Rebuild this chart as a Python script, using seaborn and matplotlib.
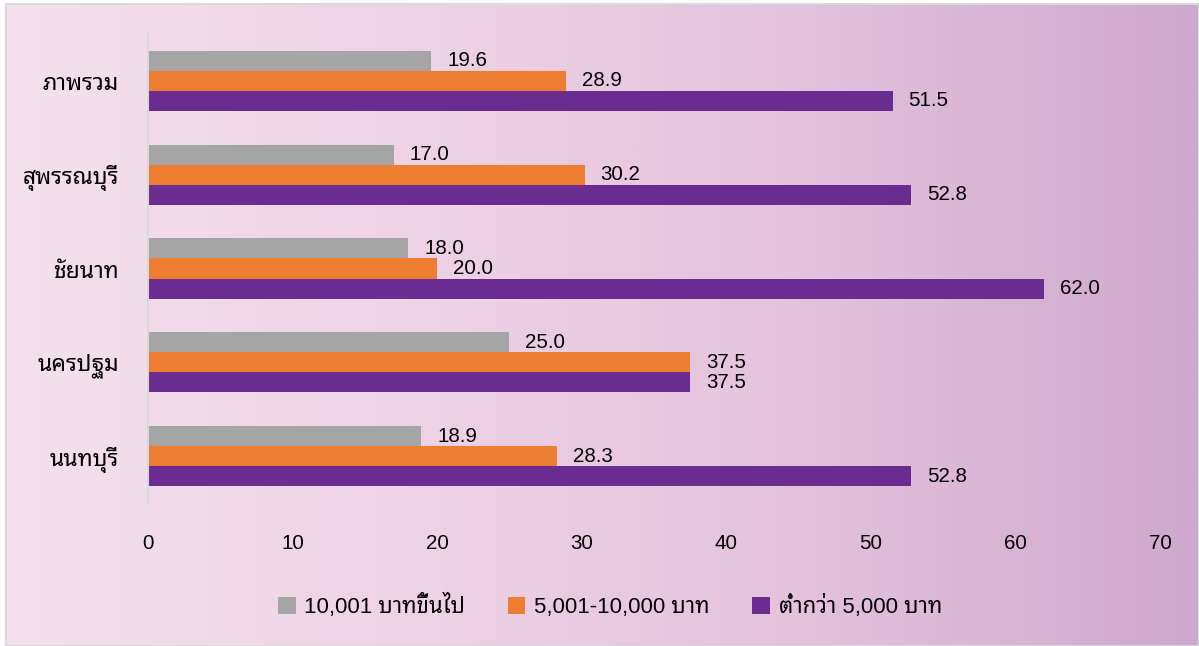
import matplotlib
matplotlib.use("Agg")
import matplotlib.pyplot as plt
import numpy as np
import pandas as pd
import seaborn as sns
from matplotlib.colors import LinearSegmentedColormap
from matplotlib.patches import Patch

# Provinces (top to bottom) and monthly income brackets
provinces = ["ภาพรวม", "สุพรรณบุรี", "ชัยนาท", "นครปฐม", "นนทบุรี"]
brackets = ["10,001 บาทขึ้นไป", "5,001-10,000 บาท", "ต่ำกว่า 5,000 บาท"]
high_income = [19.6, 17.0, 18.0, 25.0, 18.9]
mid_income = [28.9, 30.2, 20.0, 37.5, 28.3]
low_income = [51.5, 52.8, 62.0, 37.5, 52.8]
x_ticks = [0, 10, 20, 30, 40, 50, 60, 70]

colors = ["#a5a5a5", "#ed7d31", "#6a2c91"]

df = pd.DataFrame({
    "province": provinces * 3,
    "bracket": [brackets[0]] * 5 + [brackets[1]] * 5 + [brackets[2]] * 5,
    "percent": high_income + mid_income + low_income,
})

sns.set_theme(style="white")
plt.rcParams["font.family"] = ["Liberation Sans", "Noto Sans Thai Looped", "DejaVu Sans"]
plt.rcParams["text.color"] = "black"
plt.rcParams["xtick.color"] = "black"
plt.rcParams["ytick.color"] = "black"

W, H = 1199, 646
fig = plt.figure(figsize=(W / 100, H / 100), dpi=100)
fig.patch.set_facecolor("white")

# Gradient panel behind the chart
bg = fig.add_axes([6 / W, 0, 1 - 6 / W, 1 - 4 / H], zorder=0)
grad_cmap = LinearSegmentedColormap.from_list(
    "bg", ["#f4e1ed", "#eed3e6", "#e4c2dc", "#cea8ce"])
bg.imshow(np.linspace(0, 1, 512).reshape(1, -1), aspect="auto", cmap=grad_cmap,
          extent=[0, 1, 0, 1])
bg.set_xticks([])
bg.set_yticks([])
for s in bg.spines.values():
    s.set_color("#d9d9d9")
    s.set_linewidth(1.5)

ax = fig.add_axes([148 / W, 1 - 503 / H, (1160 - 148) / W, (503 - 34) / H], zorder=1)
ax.patch.set_alpha(0)

sns.barplot(data=df, y="province", x="percent", hue="bracket", order=provinces,
            hue_order=brackets, palette=colors, orient="h", width=0.64,
            saturation=1, linewidth=0, edgecolor="none", ax=ax, legend=False)

for container in ax.containers:
    ax.bar_label(container, fmt="%.1f", padding=11.5, fontsize=14.8, color="black")

ax.set_xlim(0, 70)
ax.set_ylim(4.5, -0.5)
ax.set_xticks(x_ticks)
ax.set_xticklabels([str(t) for t in x_ticks], fontsize=14.8)
ax.tick_params(axis="x", length=0, pad=22)
ax.tick_params(axis="y", length=0, pad=21, labelsize=16.5)
ax.set_xlabel("")
ax.set_ylabel("")
for side in ["top", "right", "bottom"]:
    ax.spines[side].set_visible(False)
ax.spines["left"].set_color("#d9d9d9")
ax.spines["left"].set_linewidth(1.5)
ax.grid(False)

handles = [Patch(facecolor=c, edgecolor="none", label=b) for c, b in zip(colors, brackets)]
fig.legend(handles=handles, loc="center", bbox_to_anchor=(610 / W, 1 - 606 / H), ncol=3,
           frameon=False, fontsize=16, handlelength=0.8, handleheight=0.8,
           handletextpad=0.4, columnspacing=1.9)

fig.savefig("out.png", dpi=100)
